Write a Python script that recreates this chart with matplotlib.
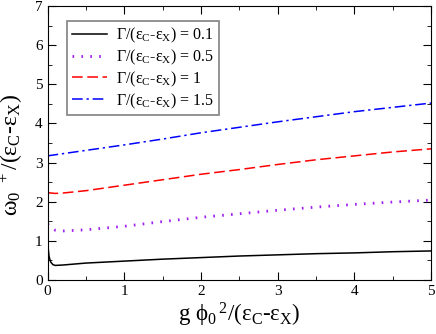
import matplotlib
matplotlib.use('Agg')
import matplotlib.pyplot as plt
from matplotlib.ticker import MultipleLocator

plt.rcParams['font.family'] = 'Liberation Serif'
plt.rcParams['mathtext.fontset'] = 'custom'
plt.rcParams['mathtext.rm'] = 'Liberation Serif'
plt.rcParams['mathtext.default'] = 'regular'

# Datos
x_k = [0, 0.01, 0.02, 0.04, 0.07, 0.1, 0.2, 0.5, 1, 1.5, 2, 2.5, 3, 3.5, 4, 4.5, 5]
y_01 = [0.98, 0.78, 0.6, 0.46, 0.39, 0.37, 0.38, 0.43, 0.48, 0.53, 0.57, 0.61, 0.64, 0.67, 0.69, 0.72, 0.74]

x_p = [0, 0.05, 0.1, 0.2, 0.5, 1, 1.5, 2, 2.5, 3, 3.5, 4, 4.5, 5]
y_05 = [1.43, 1.33, 1.27, 1.25, 1.28, 1.37, 1.49, 1.6, 1.69, 1.78, 1.86, 1.93, 1.99, 2.04]

x_r = [0, 0.1, 0.2, 0.5, 1, 1.5, 2, 2.5, 3, 3.5, 4, 4.5, 5]
y_1 = [2.23, 2.21, 2.22, 2.28, 2.42, 2.56, 2.7, 2.82, 2.95, 3.07, 3.17, 3.27, 3.35]

x_b = [0, 0.5, 1, 1.5, 2, 2.5, 3, 3.5, 4, 4.5, 5]
y_15 = [3.17, 3.31, 3.45, 3.6, 3.76, 3.9, 4.04, 4.17, 4.3, 4.41, 4.52]

gammas = ['0.1', '0.5', '1', '1.5']
etiquetas = ['Γ/(ε$_C$-ε$_X$) = ' + g for g in gammas]

fig = plt.figure(figsize=(4.36, 3.34), dpi=100)
ax = fig.add_axes([0.109, 0.162, 0.88, 0.82])

ax.plot(x_k, y_01, color='black', lw=1.1, label=etiquetas[0])
ax.plot(x_p, y_05, color='#a020f0', lw=2.0, linestyle=(0, (0.6, 2.6)), label=etiquetas[1])
ax.plot(x_r, y_1, color='red', lw=1.1, linestyle=(0, (7, 3)), label=etiquetas[2])
ax.plot(x_b, y_15, color='blue', lw=1.1, linestyle=(0, (7, 2.5, 1.5, 2.5)), label=etiquetas[3])

ax.set_xlim(0, 5)
ax.set_ylim(0, 7)
ax.xaxis.set_major_locator(MultipleLocator(1))
ax.xaxis.set_minor_locator(MultipleLocator(0.5))
ax.yaxis.set_major_locator(MultipleLocator(1))
ax.yaxis.set_minor_locator(MultipleLocator(0.5))
ax.tick_params(which='both', direction='in', top=True, right=True, labelsize=11)
ax.tick_params(which='major', length=6)
ax.tick_params(which='minor', length=3)

ax.set_xlabel('g ϕ$_0$$^{\\,2}$/(ε$_C$-ε$_X$)', fontsize=16.5, labelpad=2)
ax.set_ylabel('ω$_0$$^{\\ +}$/(ε$_C$-ε$_X$)', fontsize=17)
ax.yaxis.set_label_coords(-0.058, 0.455)

leg = ax.legend(loc='upper left', bbox_to_anchor=(0.051, 0.946), fontsize=11.5,
                fancybox=False, edgecolor='gray', framealpha=1, handlelength=2.2,
                borderpad=0.3, labelspacing=0.17, handletextpad=0.55,
                borderaxespad=0)
leg.get_frame().set_linewidth(1.2)

fig.savefig('out.png', dpi=100)
